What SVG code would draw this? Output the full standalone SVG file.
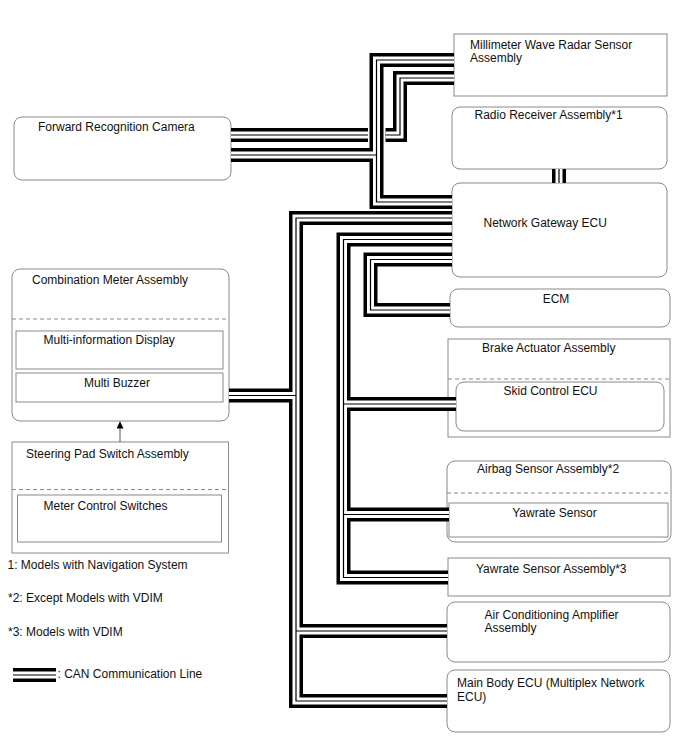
<svg xmlns="http://www.w3.org/2000/svg" xmlns:xlink="http://www.w3.org/1999/xlink" width="688" height="755" viewBox="0 0 688 755">
<style>
.box{fill:#fff;stroke:#8a8a8a;stroke-width:1}
.inner{fill:none;stroke:#8a8a8a;stroke-width:1}
.dash{fill:none;stroke:#8a8a8a;stroke-width:1;stroke-dasharray:4 3}
text{font-family:"Liberation Sans",Arial,sans-serif;font-size:12px;fill:#111}
.mid{text-anchor:middle}
.cb{fill:none;stroke:#000;stroke-width:14;stroke-linejoin:miter}
.cw{fill:none;stroke:#fff;stroke-width:7;stroke-linejoin:miter}
.ct{fill:none;stroke:#000;stroke-width:1.2;stroke-linejoin:miter}
.arrow{fill:none;stroke:#555;stroke-width:1}
</style>
<defs>
<path id="c-m1" d="M454,60 H376.5 V202 H452"/>
<path id="c-m2a" d="M454,78 H400 V135 H385.5"/>
<path id="c-m2b" d="M368,135 H231"/>
<path id="c-cam" d="M231,155 H376.5"/>
<path id="c-radio" d="M559,169 V183"/>
<path id="c-c" d="M452,218 H296 V701 H447"/>
<path id="c-meter" d="M296,395.5 H229"/>
<path id="c-ac" d="M296,631 H447"/>
<path id="c-d" d="M452,239.5 H343.5 V577.5 H448"/>
<path id="c-skid" d="M343.5,404 H456"/>
<path id="c-yaw" d="M343.5,514.5 H449"/>
<path id="c-e" d="M452,259.5 H370.5 V310 H450"/>
<path id="c-legend" d="M13,675 H56"/>
<marker id="ah" viewBox="0 0 10 10" refX="10" refY="5" markerWidth="7" markerHeight="7" orient="auto" markerUnits="userSpaceOnUse">
<path d="M0,0 L10,5 L0,10 Z" fill="#000"/>
</marker>
</defs>

<g id="camera">
<rect class="box" x="14" y="117" width="217" height="63" rx="8"/>
<text x="38" y="131">Forward Recognition Camera</text>
</g>
<g id="millimeter">
<rect class="box" x="454" y="34" width="213" height="62"/>
<text x="470" y="48.5">Millimeter Wave Radar Sensor</text>
<text x="470" y="62">Assembly</text>
</g>
<g id="radio">
<rect class="box" x="452" y="107" width="215" height="62" rx="8"/>
<text x="474.5" y="119">Radio Receiver Assembly*1</text>
</g>
<g id="gateway">
<rect class="box" x="452" y="183" width="215" height="94" rx="8"/>
<text x="483.5" y="227">Network Gateway ECU</text>
</g>
<g id="ecm">
<rect class="box" x="450" y="289" width="220" height="38" rx="8"/>
<text class="mid" x="556" y="303">ECM</text>
</g>
<g id="brake">
<rect class="box" x="448" y="339" width="222" height="98"/>
<text x="482" y="351.5">Brake Actuator Assembly</text>
<line class="dash" x1="448" y1="379" x2="670" y2="379"/>
<g id="skid">
<rect class="inner" x="456" y="382" width="208" height="49" rx="8"/>
<text class="mid" x="550.5" y="395">Skid Control ECU</text>
</g>
</g>
<g id="airbag">
<rect class="box" x="447" y="461" width="224" height="81" rx="8"/>
<text x="477" y="473">Airbag Sensor Assembly*2</text>
<line class="dash" x1="447" y1="493" x2="671" y2="493"/>
<g id="yawrate-sensor">
<rect class="inner" x="449" y="503" width="219" height="34"/>
<text class="mid" x="554.5" y="516.5">Yawrate Sensor</text>
</g>
</g>
<g id="yawrate-assy">
<rect class="box" x="448" y="558" width="222" height="38"/>
<text x="476" y="573">Yawrate Sensor Assembly*3</text>
</g>
<g id="aircon">
<rect class="box" x="447" y="602" width="223" height="60" rx="8"/>
<text x="484.5" y="618.5">Air Conditioning Amplifier</text>
<text x="484.5" y="632">Assembly</text>
</g>
<g id="mainbody">
<rect class="box" x="447" y="670" width="223" height="62" rx="8"/>
<text x="457" y="687">Main Body ECU (Multiplex Network</text>
<text x="457" y="700.5">ECU)</text>
</g>
<g id="combimeter">
<rect class="box" x="12" y="269" width="217" height="152" rx="8"/>
<text x="32" y="284">Combination Meter Assembly</text>
<line class="dash" x1="12" y1="319" x2="229" y2="319"/>
<g id="multi-info">
<rect class="inner" x="16" y="331" width="207" height="38"/>
<text x="43.5" y="343.5">Multi-information Display</text>
</g>
<g id="buzzer">
<rect class="inner" x="16" y="373" width="207" height="29"/>
<text class="mid" x="117" y="386.5">Multi Buzzer</text>
</g>
</g>
<g id="steering">
<rect class="box" x="12" y="442" width="216.5" height="111"/>
<text x="26" y="457.5">Steering Pad Switch Assembly</text>
<line class="dash" x1="12" y1="489.5" x2="228.5" y2="489.5"/>
<g id="meter-switches">
<rect class="inner" x="17.5" y="495" width="204" height="47"/>
<text x="43.5" y="510">Meter Control Switches</text>
</g>
</g>

<g id="connectors">
<line class="arrow" x1="120" y1="442" x2="120" y2="421.5" marker-end="url(#ah)"/>
<g class="cb">
<use href="#c-m1"/><use href="#c-m2a"/><use href="#c-m2b"/><use href="#c-cam"/><use href="#c-radio"/>
<use href="#c-c"/><use href="#c-meter"/><use href="#c-ac"/><use href="#c-d"/><use href="#c-skid"/><use href="#c-yaw"/><use href="#c-e"/><use href="#c-legend"/>
</g>
<g class="cw">
<use href="#c-m1"/><use href="#c-m2a"/><use href="#c-m2b"/><use href="#c-cam"/><use href="#c-radio"/>
<use href="#c-c"/><use href="#c-meter"/><use href="#c-ac"/><use href="#c-d"/><use href="#c-skid"/><use href="#c-yaw"/><use href="#c-e"/><use href="#c-legend"/>
</g>
<g class="ct">
<use href="#c-m1"/><use href="#c-m2a"/><use href="#c-m2b"/><use href="#c-cam"/><use href="#c-radio"/>
<use href="#c-c"/><use href="#c-meter"/><use href="#c-ac"/><use href="#c-d"/><use href="#c-skid"/><use href="#c-yaw"/><use href="#c-e"/><use href="#c-legend"/>
</g>
</g>

<g id="legend">
<text x="7.5" y="568.5">1: Models with Navigation System</text>
<text x="8" y="602">*2: Except Models with VDIM</text>
<text x="8" y="635.5">*3: Models with VDIM</text>
<text x="57.5" y="677.5">: CAN Communication Line</text>
</g>
</svg>
